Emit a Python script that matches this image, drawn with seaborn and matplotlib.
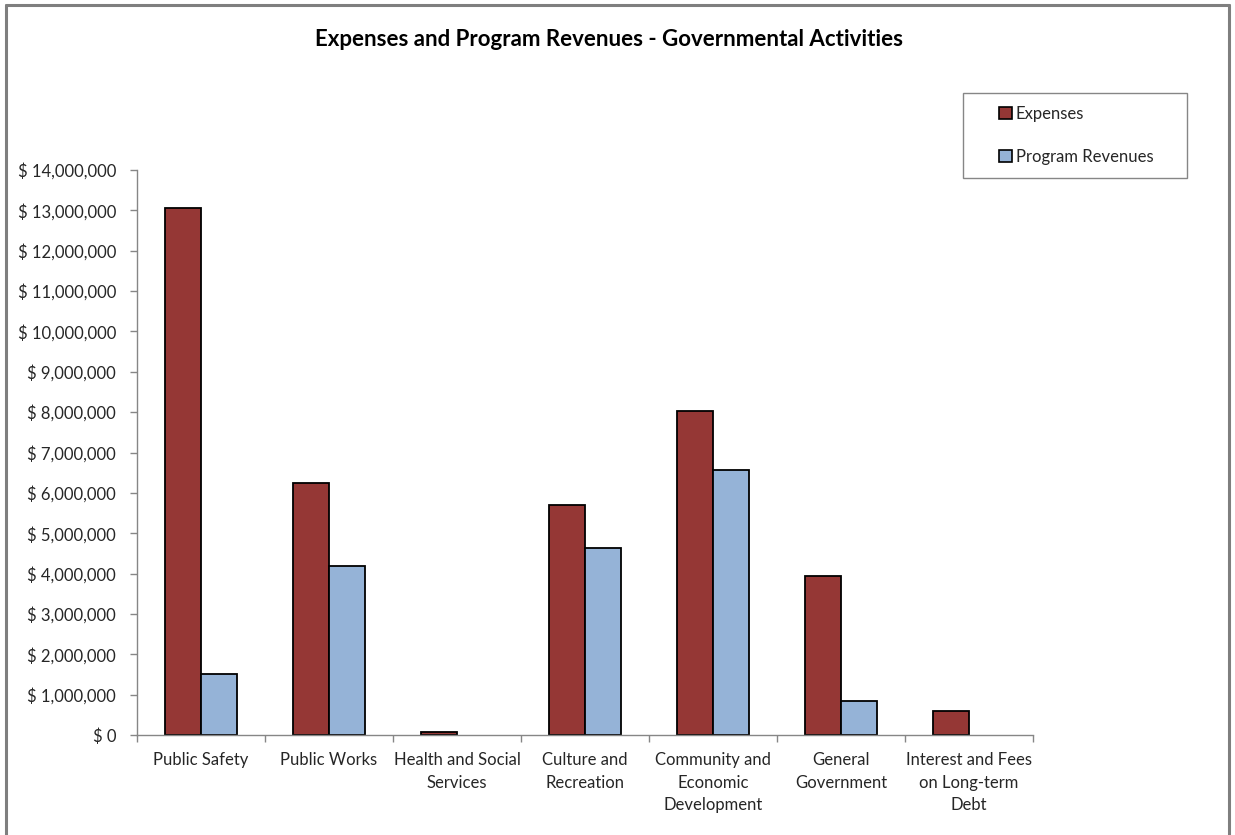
import matplotlib
matplotlib.use("Agg")
import matplotlib.pyplot as plt
from matplotlib.lines import Line2D
from matplotlib.patches import Patch, Rectangle
from matplotlib.ticker import FuncFormatter, FixedLocator
import numpy as np
import pandas as pd
import seaborn as sns

categories = [
    "Public Safety",
    "Public Works",
    "Health and Social Services",
    "Culture and Recreation",
    "Community and Economic Development",
    "General Government",
    "Interest and Fees on Long-term Debt",
]
tick_labels = [
    "Public Safety",
    "Public Works",
    "Health and Social\nServices",
    "Culture and\nRecreation",
    "Community and\nEconomic\nDevelopment",
    "General\nGovernment",
    "Interest and Fees\non Long-term\nDebt",
]
expenses = [13060000, 6240000, 70000, 5700000, 8030000, 3940000, 590000]
program_revenues = [1510000, 4190000, 0, 4630000, 6570000, 840000, 0]
series_names = ["Expenses", "Program Revenues"]
y_ticks = list(range(0, 14000001, 1000000))

df = pd.DataFrame({
    "Category": categories * 2,
    "Series": [series_names[0]] * len(categories) + [series_names[1]] * len(categories),
    "Amount": expenses + program_revenues,
})

sns.set_theme(style="white")
plt.rcParams["font.family"] = ["Lato", "DejaVu Sans"]

colors = {"Expenses": "#953735", "Program Revenues": "#95B3D7"}
axis_gray = "#868686"
text_col = "#262626"

W, H = 1235, 835
fig = plt.figure(figsize=(W / 100, H / 100), dpi=100)
ax = fig.add_axes([137 / W, 1 - 735 / H, (1033 - 137) / W, (735 - 170) / H])

sns.barplot(data=df, x="Category", y="Amount", hue="Series", order=categories,
            hue_order=series_names, palette=colors, width=0.57, gap=0,
            edgecolor="black", linewidth=1.3, saturation=1, ax=ax, legend=False)

for p in ax.patches:
    if p.get_height() == 0:
        p.set_linewidth(0)

ax.set_xlim(-0.5, len(categories) - 0.5)
ax.set_ylim(0, 14000000)
ax.set_xlabel("")
ax.set_ylabel("")

# y axis: currency ticks
ax.yaxis.set_major_locator(FixedLocator(y_ticks))
ax.yaxis.set_major_formatter(FuncFormatter(lambda v, _: f"$ {v:,.0f}"))
ax.tick_params(axis="y", which="major", direction="out", length=5, width=1,
               color=axis_gray, labelsize=12, labelcolor=text_col, pad=10, left=True)

# x axis: tick marks between categories, labels under category centres
ax.xaxis.set_major_locator(FixedLocator(np.arange(-0.5, len(categories))))
ax.set_xticklabels([""] * (len(categories) + 1))
ax.set_xticks(np.arange(len(categories)), labels=tick_labels, minor=True)
for lbl in ax.get_xticklabels(minor=True):
    lbl.set_linespacing(1.5)
    lbl.set_verticalalignment("top")
ax.tick_params(axis="x", which="major", direction="out", length=5, width=1,
               color=axis_gray, bottom=True)
ax.tick_params(axis="x", which="minor", length=0, labelsize=12,
               labelcolor=text_col, pad=12.5, bottom=True)

for side in ["top", "right"]:
    ax.spines[side].set_visible(False)
for side in ["left", "bottom"]:
    ax.spines[side].set_color(axis_gray)
    ax.spines[side].set_linewidth(1)
ax.grid(False)

# title
fig.text(609 / W, 1 - 40 / H, "Expenses and Program Revenues - Governmental Activities",
         ha="center", va="center", fontsize=16, fontweight="bold", color="black")

# legend box and entries
fig.add_artist(Rectangle((963 / W, 1 - 178 / H), (1187 - 963) / W, (178 - 93) / H,
                         transform=fig.transFigure, facecolor="white",
                         edgecolor=axis_gray, linewidth=1))
handles = [Patch(facecolor=colors[s], edgecolor="black", linewidth=1.2, label=s)
           for s in series_names]
leg = fig.legend(handles=handles, loc="upper left",
                 bbox_to_anchor=(999 / W, 1 - 106 / H), frameon=False,
                 fontsize=12, handlelength=0.75, handleheight=0.75, handletextpad=0.25,
                 labelspacing=1.62, borderpad=0, borderaxespad=0,
                 labelcolor=text_col)

# outer chart border (left, top, right)
border = dict(color="#7f7f7f", linewidth=2.2, transform=fig.transFigure, clip_on=False)
fig.add_artist(Line2D([6 / W, 6 / W], [0, 1 - 5 / H], **border))
fig.add_artist(Line2D([6 / W, 1229 / W], [1 - 5 / H, 1 - 5 / H], **border))
fig.add_artist(Line2D([1229 / W, 1229 / W], [0, 1 - 5 / H], **border))

fig.savefig("out.png", dpi=100, facecolor="white")
